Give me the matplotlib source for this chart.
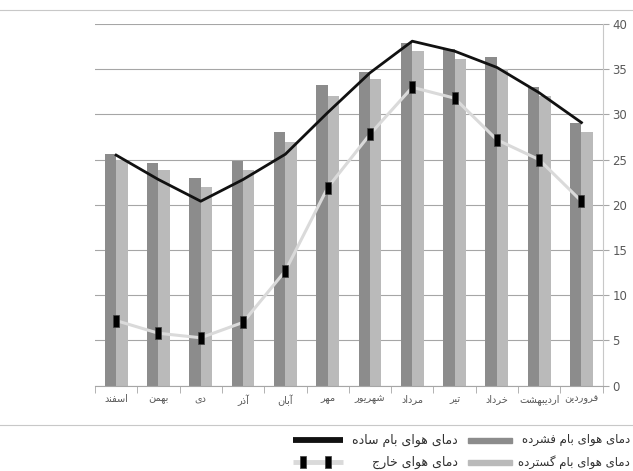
import numpy as np
import matplotlib
matplotlib.use('Agg')
import matplotlib.pyplot as plt
from matplotlib.lines import Line2D
from matplotlib.patches import Rectangle

# Persian month labels, left to right on the x axis
months = ['اسفند', 'بهمن', 'دی', 'آذر', 'آبان', 'مهر', 'شهریور',
          'مرداد', 'تیر', 'خرداد', 'اردیبهشت', 'فروردین']

# temperatures (deg C)
intensive_roof = [25.6, 24.6, 23.0, 24.8, 28.1, 33.2, 34.7, 37.9, 37.2, 36.3, 33.0, 29.0]
extensive_roof = [25.0, 23.9, 22.0, 23.9, 27.0, 32.0, 33.9, 37.0, 36.1, 35.0, 32.0, 28.1]
simple_roof = [25.5, 22.8, 20.4, 22.8, 25.6, 30.2, 34.6, 38.1, 37.0, 35.2, 32.4, 29.1]
outside_air = [7.2, 5.8, 5.3, 7.0, 12.7, 21.9, 27.8, 33.0, 31.8, 27.2, 25.0, 20.4]

yticks = [0, 5, 10, 15, 20, 25, 30, 35, 40]

label_simple = 'دمای هوای بام ساده'
label_intensive = 'دمای هوای بام فشرده'
label_extensive = 'دمای هوای بام گسترده'
label_outside = 'دمای هوای خارج'

# isolated, final, initial, medial presentation forms
FORMS = {
    'ا': (0xFE8D, 0xFE8E, None, None),
    'آ': (0xFE81, 0xFE82, None, None),
    'ب': (0xFE8F, 0xFE90, 0xFE91, 0xFE92),
    'ت': (0xFE95, 0xFE96, 0xFE97, 0xFE98),
    'ج': (0xFE9D, 0xFE9E, 0xFE9F, 0xFEA0),
    'خ': (0xFEA5, 0xFEA6, 0xFEA7, 0xFEA8),
    'د': (0xFEA9, 0xFEAA, None, None),
    'ذ': (0xFEAB, 0xFEAC, None, None),
    'ر': (0xFEAD, 0xFEAE, None, None),
    'ز': (0xFEAF, 0xFEB0, None, None),
    'س': (0xFEB1, 0xFEB2, 0xFEB3, 0xFEB4),
    'ش': (0xFEB5, 0xFEB6, 0xFEB7, 0xFEB8),
    'ف': (0xFED1, 0xFED2, 0xFED3, 0xFED4),
    'گ': (0xFB92, 0xFB93, 0xFB94, 0xFB95),
    'ل': (0xFEDD, 0xFEDE, 0xFEDF, 0xFEE0),
    'م': (0xFEE1, 0xFEE2, 0xFEE3, 0xFEE4),
    'ن': (0xFEE5, 0xFEE6, 0xFEE7, 0xFEE8),
    'ه': (0xFEE9, 0xFEEA, 0xFEEB, 0xFEEC),
    'و': (0xFEED, 0xFEEE, None, None),
    'ی': (0xFBFC, 0xFBFD, 0xFBFE, 0xFBFF),
}


def shape(text):
    """Join letters and put them in display (right-to-left) order."""
    out = []
    for i, ch in enumerate(text):
        if ch not in FORMS:
            out.append(ch)
            continue
        iso, fin, ini, med = FORMS[ch]
        prev = text[i - 1] if i > 0 else ''
        nxt = text[i + 1] if i + 1 < len(text) else ''
        join_prev = prev in FORMS and FORMS[prev][2] is not None
        join_next = ini is not None and nxt in FORMS
        if join_prev and join_next:
            code = med
        elif join_prev:
            code = fin
        elif join_next:
            code = ini
        else:
            code = iso
        out.append(chr(code))
    return ''.join(reversed(out))


W, H = 633, 471
dark_bar = '#8c8c8c'
light_bar = '#bababa'
text_grey = '#595959'
legend_text = '#303030'
axis_grey = '#a6a6a6'
outside_line = '#dadada'

rect_marker = [(-2.5, -4.5), (2.5, -4.5), (2.5, 4.5), (-2.5, 4.5), (-2.5, -4.5)]

fig = plt.figure(figsize=(W / 100, H / 100), dpi=100)
ax = fig.add_axes([95 / W, 1 - 385.7 / H, (602.6 - 95) / W, (385.7 - 24) / H])

x = np.arange(len(months))
bw = 0.27
ax.bar(x - bw / 2, intensive_roof, bw, color=dark_bar, zorder=2)
ax.bar(x + bw / 2, extensive_roof, bw, color=light_bar, zorder=2)
ax.plot(x, outside_air, color=outside_line, lw=2.2, zorder=3,
        marker=rect_marker, markersize=9, markerfacecolor='black',
        markeredgecolor='#404040', markeredgewidth=0.5)
ax.plot(x, simple_roof, color='#111111', lw=2.0, zorder=4)

ax.set_xlim(-0.5, len(months) - 0.5)
ax.set_ylim(0, 40)
ax.set_yticks(yticks)
ax.yaxis.tick_right()
ax.grid(axis='y', color=axis_grey, lw=0.8, zorder=0)
ax.tick_params(axis='y', labelsize=8.5, labelcolor=text_grey, color=axis_grey,
               length=4, pad=3)

ax.set_xticks(x)
ax.set_xticklabels([shape(m) for m in months], fontsize=7, color=text_grey)
ax.tick_params(axis='x', length=0, pad=6)
ax.set_xticks(np.arange(-0.5, len(months)), minor=True)
ax.tick_params(axis='x', which='minor', length=5, color=axis_grey)

for side in ('top', 'left'):
    ax.spines[side].set_visible(False)
ax.spines['bottom'].set_color(axis_grey)
ax.spines['right'].set_color('#c8c8c8')
ax.set_axisbelow(True)


def px(xp, yp):
    return xp / W, 1 - yp / H


# outer chart frame (top and bottom edges)
for yp in (10, 425):
    fig.add_artist(Line2D([0, 1], [1 - yp / H] * 2, color='#c8c8c8', lw=0.8))

# legend, two rows
row1, row2 = 440, 462
fs = 9
fs_right = 8.5
fig.add_artist(Line2D([293 / W, 343 / W], [px(0, row1)[1]] * 2, color='#111111', lw=4.2,
                      solid_capstyle='butt'))
fig.text(*px(458, row1), shape(label_simple), ha='right', va='center', fontsize=fs, color=legend_text)
fig.add_artist(Rectangle(px(468, row1 + 2.5), 44 / W, 5 / H, color=dark_bar))
fig.text(*px(630, row1), shape(label_intensive), ha='right', va='center', fontsize=fs_right,
         color=legend_text)

fig.add_artist(Line2D([293 / W, 343 / W], [px(0, row2)[1]] * 2, color=outside_line, lw=3.5,
                      solid_capstyle='butt'))
fig.add_artist(Line2D([303 / W, 328 / W], [px(0, row2)[1]] * 2, lw=0, marker=rect_marker,
                      markersize=8, markerfacecolor='black', markeredgecolor='#404040',
                      markeredgewidth=0.5))
fig.text(*px(458, row2), shape(label_outside), ha='right', va='center', fontsize=fs, color=legend_text)
fig.add_artist(Rectangle(px(468, row2 + 2.5), 44 / W, 5 / H, color=light_bar))
fig.text(*px(630, row2), shape(label_extensive), ha='right', va='center', fontsize=fs_right,
         color=legend_text)

fig.savefig('out.png', dpi=100)
